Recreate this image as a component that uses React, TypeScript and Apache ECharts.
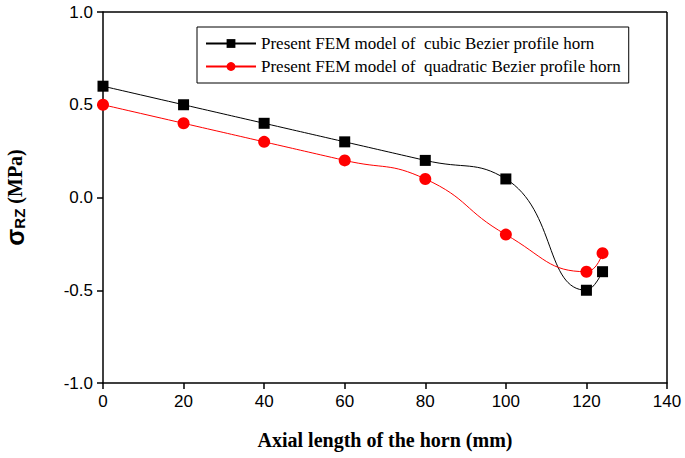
import React, { useEffect, useRef } from "react";
import * as echarts from "echarts";

const xValues = [0, 20, 40, 60, 80, 100, 120, 124];
const cubicValues = [0.6, 0.5, 0.4, 0.3, 0.2, 0.1, -0.5, -0.4];
const quadraticValues = [0.5, 0.4, 0.3, 0.2, 0.1, -0.2, -0.4, -0.3];
const cubicName = "Present FEM model of  cubic Bezier profile horn";
const quadName = "Present FEM model of  quadratic Bezier profile horn";

export default function App() {
  const ref = useRef<HTMLDivElement>(null);
  useEffect(() => {
    const chart = echarts.init(ref.current!, null, { renderer: "svg" });
    const serif = "Liberation Serif";
    const sans = "Liberation Sans";
    const w = 685, h = 458;
    chart.setOption({
      animation: false,
      backgroundColor: "#fff",
      grid: { left: 103, top: 12, right: 18, bottom: 75, show: false, containLabel: false, outerBoundsMode: "none" },
      legend: {
        orient: "vertical",
        left: 197,
        top: 27,
        padding: [8, 8, 8, 8],
        itemGap: 6,
        itemWidth: 50,
        itemHeight: 11,
        borderColor: "#000",
        borderWidth: 1,
        borderRadius: 0,
        textStyle: { fontFamily: serif, fontSize: 17, color: "#000" },
        data: [cubicName, quadName],
      },
      xAxis: {
        type: "value",
        min: 0,
        max: 140,
        interval: 20,
        name: "Axial length of the horn (mm)",
        nameLocation: "middle",
        nameGap: 47,
        nameTextStyle: { fontFamily: serif, fontSize: 20, fontWeight: "bold", color: "#000" },
        axisLine: { show: true, onZero: false, lineStyle: { color: "#000", width: 1.5 } },
        axisTick: { show: true, inside: false, length: 6, lineStyle: { color: "#000", width: 1.5 } },
        axisLabel: { fontFamily: sans, fontSize: 17, color: "#000", margin: 10 },
        splitLine: { show: false },
      },
      yAxis: {
        type: "value",
        min: -1,
        max: 1,
        interval: 0.5,
        name: "{s|σ}{sub|RZ}{u| (MPa)}",
        nameLocation: "middle",
        nameGap: 76,
        nameTextStyle: {
          rich: {
            s: { fontFamily: sans, fontSize: 25, fontWeight: "bold", color: "#000" },
            sub: { fontFamily: sans, fontSize: 15, fontWeight: "bold", color: "#000", padding: [10, 0, 0, 0] },
            u: { fontFamily: serif, fontSize: 20, fontWeight: "bold", color: "#000" },
          },
        },
        axisLine: { show: true, lineStyle: { color: "#000", width: 1.5 } },
        axisTick: { show: true, inside: false, length: 6, lineStyle: { color: "#000", width: 1.5 } },
        axisLabel: {
          fontFamily: sans,
          fontSize: 17,
          color: "#000",
          margin: 10,
          formatter: (v: number) => v.toFixed(1),
        },
        splitLine: { show: false },
      },
      graphic: [
        { type: "line", shape: { x1: 103, y1: 12, x2: w - 18, y2: 12 }, style: { stroke: "#000", lineWidth: 1.5 } },
        { type: "line", shape: { x1: w - 18, y1: 12, x2: w - 18, y2: h - 75 }, style: { stroke: "#000", lineWidth: 1.5 } },
      ],
      series: [
        {
          name: cubicName,
          type: "line",
          data: xValues.map((x, i) => [x, cubicValues[i]]),
          smooth: 0.5,
          symbol: "rect",
          symbolSize: 11,
          itemStyle: { color: "#000" },
          lineStyle: { color: "#000", width: 1 },
          clip: false,
        },
        {
          name: quadName,
          type: "line",
          data: xValues.map((x, i) => [x, quadraticValues[i]]),
          smooth: 0.5,
          symbol: "circle",
          symbolSize: 12,
          itemStyle: { color: "#ff0000" },
          lineStyle: { color: "#ff0000", width: 1 },
          clip: false,
        },
      ],
    });
    return () => chart.dispose();
  }, []);
  return <div ref={ref} style={{ width: 685, height: 458, position: "absolute", left: 0, top: 0 }} />;
}
